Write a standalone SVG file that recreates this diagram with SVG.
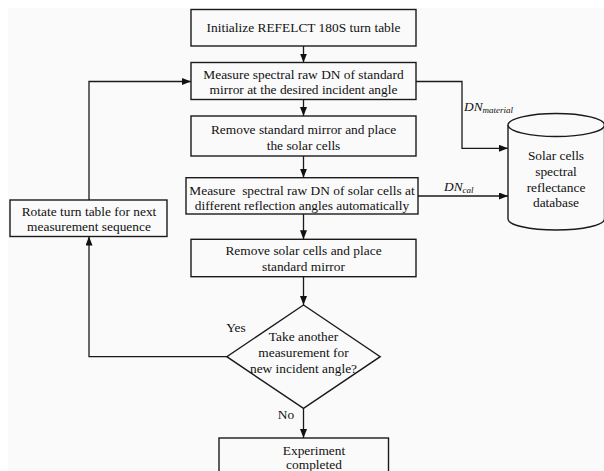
<svg xmlns="http://www.w3.org/2000/svg" width="604" height="471" viewBox="0 0 604 471">
<style>
.b{fill:#fafafa;stroke:#1a1a1a;stroke-width:1.4}
.t{font-family:"Liberation Serif","Times New Roman",serif;font-size:13.4px;fill:#111;text-anchor:middle}
.l{font-family:"Liberation Serif","Times New Roman",serif;font-size:13.4px;fill:#111}
.c{fill:none;stroke:#1a1a1a;stroke-width:1.3}
</style>
<defs>
<marker id="a" markerWidth="9" markerHeight="7" refX="9" refY="3.5" orient="auto" markerUnits="userSpaceOnUse">
<path d="M0,0 L9,3.5 L0,7 Z" fill="#111"/>
</marker>
</defs>
<rect width="604" height="471" fill="#ffffff"/>
<rect x="8" y="8" width="596" height="463" fill="#fafafa"/>

<g id="n1"><rect class="b" x="191" y="9.5" width="225" height="36.5"/>
<text class="t" x="303.5" y="32">Initialize REFELCT 180S turn table</text></g>

<g id="n2"><rect class="b" x="191" y="62.5" width="225" height="37"/>
<text class="t" x="303.5" y="78.5">Measure spectral raw DN of standard</text>
<text class="t" x="303.5" y="94">mirror at the desired incident angle</text></g>

<g id="n3"><rect class="b" x="191" y="116" width="225" height="40"/>
<text class="t" x="303.5" y="133.5">Remove standard mirror and place</text>
<text class="t" x="303.5" y="149.5">the solar cells</text></g>

<g id="n4"><rect class="b" x="186" y="177.7" width="232" height="36.3"/>
<text class="t" x="302" y="194.5" xml:space="preserve">Measure  spectral raw DN of solar cells at</text>
<text class="t" x="302" y="209.5">different reflection angles automatically</text></g>

<g id="n5"><rect class="b" x="191" y="239.3" width="225" height="37.4"/>
<text class="t" x="303.5" y="254.5">Remove solar cells and place</text>
<text class="t" x="303.5" y="271">standard mirror</text></g>

<g id="n6"><path class="b" d="M303.5,305 L380.2,356.7 L303.5,408.4 L226.8,356.7 Z"/>
<text class="t" x="303.5" y="341">Take another</text>
<text class="t" x="303.5" y="357">measurement for</text>
<text class="t" x="303.5" y="373">new incident angle?</text></g>

<g id="n7"><rect class="b" x="219" y="438" width="169.5" height="40"/>
<text class="t" x="314" y="454.5">Experiment</text>
<text class="t" x="314" y="469">completed</text></g>

<g id="n8"><rect class="b" x="10" y="200" width="157" height="36.5"/>
<text class="t" x="89" y="216">Rotate turn table for next</text>
<text class="t" x="89" y="231">measurement sequence</text></g>

<g id="n9">
<path class="b" d="M508,125 L508,219 A48.25,11 0 0 0 604.5,219 L604.5,125"/>
<ellipse class="b" cx="556.25" cy="125" rx="48.25" ry="11.5"/>
<text class="t" x="556" y="159.5">Solar cells</text>
<text class="t" x="556" y="175.5">spectral</text>
<text class="t" x="556" y="191.5">reflectance</text>
<text class="t" x="556" y="207">database</text>
</g>

<g id="connectors">
<line class="c" x1="303.5" y1="46" x2="303.5" y2="62.5" marker-end="url(#a)"/>
<line class="c" x1="303.5" y1="99.5" x2="303.5" y2="116" marker-end="url(#a)"/>
<line class="c" x1="303.5" y1="156" x2="303.5" y2="177.7" marker-end="url(#a)"/>
<line class="c" x1="303.5" y1="214" x2="303.5" y2="239.3" marker-end="url(#a)"/>
<line class="c" x1="303.5" y1="276.7" x2="303.5" y2="305" marker-end="url(#a)"/>
<line class="c" x1="303.5" y1="408.4" x2="303.5" y2="438" marker-end="url(#a)"/>
<polyline class="c" points="226.8,356.7 89,356.7 89,236.5" marker-end="url(#a)"/>
<polyline class="c" points="89,200 89,81.5 191,81.5" marker-end="url(#a)"/>
<polyline class="c" points="416,81.5 462,81.5 462,148.3 508,148.3" marker-end="url(#a)"/>
<line class="c" x1="418" y1="196" x2="508" y2="196" marker-end="url(#a)"/>
<text class="l" x="464" y="110.5" font-style="italic">DN<tspan font-size="9" dy="2">material</tspan></text>
<text class="l" x="444" y="191" font-style="italic">DN<tspan font-size="9" dy="2">cal</tspan></text>
<text class="t" x="236" y="332">Yes</text>
<text class="t" x="286" y="418.5">No</text>
</g>
</svg>
